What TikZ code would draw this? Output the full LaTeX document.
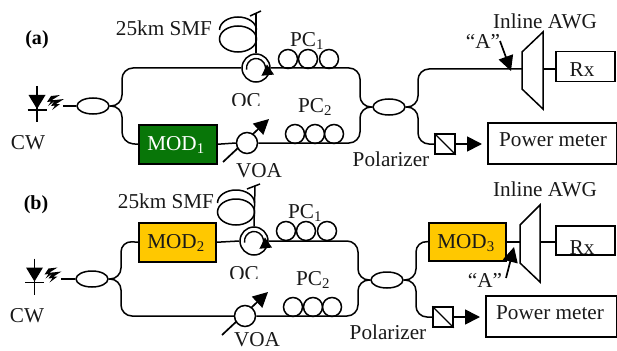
\documentclass[tikz,border=0pt]{standalone}
\usepackage{fontspec}
\setmainfont{Liberation Serif}
\usetikzlibrary{shapes.geometric,arrows.meta}
\definecolor{myyellow}{RGB}{255,200,0}
\definecolor{mygreen}{RGB}{8,118,8}
\tikzset{
  txt/.style={inner sep=0pt,font=\fontsize{21.2}{23}\selectfont,text=black!90},
  lbl/.style={inner sep=0pt,font=\fontsize{20}{22}\selectfont\bfseries},
  box/.style={draw,rectangle,inner sep=0pt,anchor=north west},
  coup/.style={draw,ellipse,minimum width=32pt,minimum height=16pt,inner sep=0pt,fill=white},
  ring/.style={draw,circle,minimum size=#1,inner sep=0pt,fill=white},
  loopc/.style={draw,circle,minimum size=19pt,inner sep=0pt},
  bigarrow/.style={-{Triangle[length=15pt,width=15pt]},line width=1.7pt},
  fib/.style={rounded corners=11pt}
}
\newcommand{\bolt}[2]{%
  \fill[black] ({#1+8},{#2-6}) -- ({#1-1},{#2-5}) -- ({#1-5},{#2+1}) -- ({#1-1},{#2+0.5}) -- ({#1-4},{#2+5}) -- ({#1+4},{#2-1}) -- ({#1},{#2-1}) -- cycle;}
\newcommand{\laser}[2]{%
  \draw ({#1},{#2-22}) -- ({#1},{#2+14});
  \fill ({#1-8.5},{#2-13}) -- ({#1+8.5},{#2-13}) -- ({#1},{#2+1}) -- cycle;
  \draw ({#1-9.5},{#2+2}) -- ({#1+9.5},{#2+2});
  \bolt{#1+15}{#2-7}
  \bolt{#1+19}{#2-3}}
\newcommand{\fibercoil}[2]{%
  \draw ({#1},{#2+4}) ellipse[x radius=18.5pt,y radius=13pt];
  \draw ({#1-18.5},{#2-5}) arc[x radius=18.5pt,y radius=13pt,start angle=180,end angle=0];}
\newcommand{\ocarrow}[1]{%
  \draw[line width=1.4pt,-{Triangle[length=11pt,width=12pt]}] ([shift={(190:9.5pt)}]#1.center) arc[start angle=190,end angle=-55,radius=9.5pt];}
\begin{document}
\begin{tikzpicture}[x=1pt,y=-1pt,line width=1.5pt]
\useasboundingbox (0,0) rectangle (617,350);

% ---------- panel (a)
\node[lbl] (alabel) at (37,40) {(a)};
\laser{37}{108}
\node[txt] (acw) at (28,143) {CW};
\coordinate (asrc) at (63,106);
\node[coup] (ac1) at (93,106) {};
\draw (asrc) -- (ac1);
\node[box,fill=mygreen,minimum width=78pt,minimum height=39pt] (amod) at (138,124) {};
\node[txt,text=white] at (176,145) {MOD\textsubscript{1}};
\node[ring=28pt] (aoc) at (256,68) {};
\ocarrow{aoc}
\draw[bigarrow] (223,162) -- (269,119);
\node[ring=21pt] (avoa) at (247,143) {};
\coordinate (afib1) at (122,106);
\draw[fib] (ac1.east) -- (afib1) -- (122,68) -- (aoc.west);
\draw[fib] (ac1.east) -- (afib1) -- (122,143) -- (amod.west);
\draw (amod.east) -- (avoa.west);
\fibercoil{238}{35}
\draw (256,13) -- (aoc.north);
\draw (250,16) -- (261,11);
\node[txt] (asmf) at (164,28) {25km SMF};
\node[loopc] (ap11) at (288,59) {};
\node[loopc] (ap12) at (308,59) {};
\node[loopc] (ap13) at (329,59) {};
\node[txt] (apc1) at (307,41) {PC\textsubscript{1}};
\node[loopc] (ap21) at (295,134) {};
\node[loopc] (ap22) at (315,134) {};
\node[loopc] (ap23) at (334,134) {};
\node[txt] (apc2) at (315,107) {PC\textsubscript{2}};
\begin{scope}
\clip (230,85) rectangle (265,105);
\node[txt] (aoct) at (246,101) {OC};
\end{scope}
\node[coup] (ac2) at (389,107) {};
\draw[fib] (aoc.east) -- (360,68) -- (360,107) -- (ac2.west);
\draw[fib] (avoa.east) -- (360,143) -- (360,107) -- (ac2.west);
\node[draw,minimum size=20pt,inner sep=0pt,fill=white] (apol) at (445,144) {};
\draw[line width=1.2pt] (apol.north west) -- (apol.south east);
\node[txt] (avoat) at (259,171) {VOA};
\node[txt] (apolt) at (391,159) {Polarizer};
\draw (522,52) -- (543,32) -- (543,109) -- (522,89) -- cycle;
\coordinate (aawgin) at (522,69);
\coordinate (aawgout) at (543,69);
\draw[fib] (ac2.east) -- (418,107) -- (418,69) -- (aawgin);
\draw[fib] (ac2.east) -- (418,107) -- (418,144) -- (apol.west);
\node[box,minimum width=59pt,minimum height=30pt] (arx) at (555,51) {};
\draw (aawgout) -- (aawgout -| arx.west);
\node[txt] (arxt) at (582,70) {Rx};
\node[box,minimum width=129pt,minimum height=41pt] (apm) at (487,122) {};
\node[txt] (apmt) at (553,140) {Power meter};
\draw[bigarrow,shorten >=5pt] (apol.east) -- (apol.east -| apm.west);
\node[txt] (aawgt) at (545,21) {Inline AWG};
\node[txt] (aa) at (483,41) {“A”};
\coordinate (aatip) at (511,71);
\draw[bigarrow] (500,41) -- (aatip);

% ---------- panel (b)
\node[lbl] (blabel) at (36,205) {(b)};
\laser{34.5}{280.5}
\node[txt] (bcw) at (27,316) {CW};
\coordinate (bsrc) at (61,279);
\node[coup] (bc1) at (92,279) {};
\draw (bsrc) -- (bc1);
\node[box,fill=myyellow,minimum width=77pt,minimum height=39pt] (bmod) at (138,222) {};
\node[txt] at (176,243) {MOD\textsubscript{2}};
\node[ring=28pt] (boc) at (254,241) {};
\ocarrow{boc}
\draw[bigarrow] (222,335) -- (268,292);
\node[ring=21pt] (bvoa) at (245,316) {};
\draw[fib] (bc1.east) -- (121,279) -- (121,241) -- (bmod.west);
\draw[fib] (bc1.east) -- (121,279) -- (121,316) -- (bvoa.west);
\draw (bmod.east) -- (boc.west);
\fibercoil{236}{208}
\draw (255,186) -- (boc.north);
\draw (247,189) -- (260,184);
\node[txt] (bsmf) at (166,201) {25km SMF};
\node[loopc] (bp11) at (286,231) {};
\node[loopc] (bp12) at (306,231) {};
\node[loopc] (bp13) at (327,231) {};
\node[txt] (bpc1) at (305,213) {PC\textsubscript{1}};
\node[loopc] (bp21) at (293,307) {};
\node[loopc] (bp22) at (313,307) {};
\node[loopc] (bp23) at (332,307) {};
\node[txt] (bpc2) at (313,280) {PC\textsubscript{2}};
\begin{scope}
\clip (228,258) rectangle (263,278);
\node[txt] (boct) at (244,274) {OC};
\end{scope}
\node[coup] (bc2) at (387,280) {};
\draw[fib] (boc.east) -- (358,241) -- (358,280) -- (bc2.west);
\draw[fib] (bvoa.east) -- (358,316) -- (358,280) -- (bc2.west);
\node[draw,minimum size=20pt,inner sep=0pt,fill=white] (bpol) at (443,317) {};
\draw[line width=1.2pt] (bpol.north west) -- (bpol.south east);
\node[txt] (bvoat) at (257,340) {VOA};
\node[txt] (bpolt) at (388,332) {Polarizer};
\node[box,fill=myyellow,minimum width=77pt,minimum height=38pt] (bmod3) at (428,222) {};
\node[txt] at (466,243) {MOD\textsubscript{3}};
\draw (520,225) -- (540,205) -- (540,282) -- (520,263) -- cycle;
\coordinate (bawgin) at (520,242);
\coordinate (bawgout) at (540,242);
\draw[fib] (bc2.east) -- (416,280) -- (416,241) -- (bmod3.west);
\draw[fib] (bc2.east) -- (416,280) -- (416,317) -- (bpol.west);
\draw (bmod3.east |- bawgin) -- (bawgin);
\node[txt,anchor=base] (brxt) at (582,254) {Rx};
\node[box,minimum width=59pt,minimum height=29pt] (brx) at (555,225) {};
\draw (bawgout) -- (bawgout -| brx.west);
\node[box,minimum width=131pt,minimum height=41pt] (bpm) at (485,295) {};
\node[txt] (bpmt) at (550,313) {Power meter};
\draw[bigarrow,shorten >=5pt] (bpol.east) -- (bpol.east -| bpm.west);
\node[txt] (bawgt) at (545,189) {Inline AWG};
\node[txt] (ba) at (485,280) {“A”};
\coordinate (batip) at (514,247);
\draw[bigarrow] (506,278) -- (batip);
\end{tikzpicture}
\end{document}
